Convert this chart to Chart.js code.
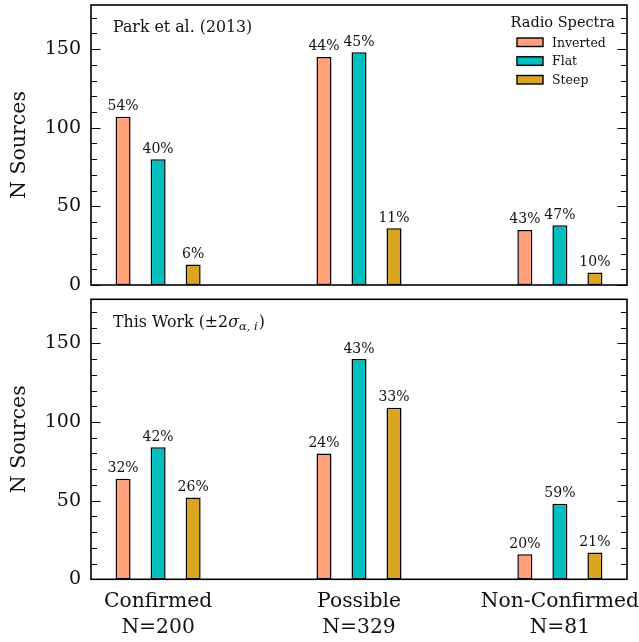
<!DOCTYPE html>
<html><head><meta charset="utf-8">
<script src="https://cdn.jsdelivr.net/npm/chart.js@4/dist/chart.umd.min.js"></script>
<style>
html,body{margin:0;padding:0;background:#fff;width:639px;height:642px;overflow:hidden;}
#w1{position:absolute;left:0;top:0;width:639px;height:300px;}
#w2{position:absolute;left:0;top:290px;width:639px;height:352px;}
</style></head><body>
<div id="w1"><canvas id="c1"></canvas></div>
<div id="w2"><canvas id="c2"></canvas></div>
<script>
const categories = ['Confirmed', 'Possible', 'Non-Confirmed'];
const categoryTotals = ['N=200', 'N=329', 'N=81'];
const seriesNames = ['Inverted', 'Flat', 'Steep'];
const seriesColors = ['#FFA07A', '#00BFBF', '#DAA520'];

const parkInverted = [107, 145, 35];
const parkFlat = [80, 148, 38];
const parkSteep = [13, 36, 8];
const parkInvertedPct = ['54%', '44%', '43%'];
const parkFlatPct = ['40%', '45%', '47%'];
const parkSteepPct = ['6%', '11%', '10%'];

const workInverted = [64, 80, 16];
const workFlat = [84, 140, 48];
const workSteep = [52, 109, 17];
const workInvertedPct = ['32%', '24%', '20%'];
const workFlatPct = ['42%', '43%', '59%'];
const workSteepPct = ['26%', '33%', '21%'];

const yTickValues = [0, 50, 100, 150];
const yMinorStep = 10;
const yMax = 178;

const FAM = "'DejaVu Serif', serif";
const INK = '#111';

const framePlugin = {
  id: 'frame',
  afterDatasetsDraw(chart) {
    const {ctx, chartArea: a} = chart;
    const y = chart.scales.y;
    ctx.save();
    ctx.strokeStyle = '#000';
    ctx.lineWidth = 1.2;
    for (let v = 0; v <= y.max; v += yMinorStep) {
      const py = Math.round(y.getPixelForValue(v)) + 0.5;
      const len = (v % 50 === 0) ? 9.5 : 6;
      ctx.beginPath();
      ctx.moveTo(a.left, py); ctx.lineTo(a.left + len, py);
      ctx.moveTo(a.right, py); ctx.lineTo(a.right - len, py);
      ctx.stroke();
    }
    ctx.lineWidth = 1.6;
    ctx.strokeRect(a.left, a.top, a.right - a.left, a.bottom - a.top);
    ctx.fillStyle = INK;
    ctx.font = `14px ${FAM}`;
    ctx.textAlign = 'center';
    ctx.textBaseline = 'alphabetic';
    chart.data.datasets.forEach((ds, i) => {
      const meta = chart.getDatasetMeta(i);
      meta.data.forEach((bar, j) => {
        ctx.fillText(ds.pct[j], bar.x, bar.y - 6.5);
      });
    });
    ctx.restore();
  }
};

const legendPlugin = {
  id: 'customLegend',
  afterDraw(chart) {
    if (!chart.options.plugins.customLegend.show) return;
    const {ctx} = chart;
    ctx.save();
    ctx.fillStyle = INK;
    ctx.font = `14.5px ${FAM}`;
    ctx.textAlign = 'right';
    ctx.textBaseline = 'alphabetic';
    ctx.fillText('Radio Spectra', 615, 27);
    ctx.textAlign = 'left';
    ctx.font = `12.5px ${FAM}`;
    const bases = [46.5, 65.3, 84];
    chart.data.datasets.forEach((ds, i) => {
      const b = bases[i];
      ctx.fillStyle = ds.backgroundColor;
      ctx.fillRect(517, b - 8.5, 26, 8.5);
      ctx.strokeStyle = '#000';
      ctx.lineWidth = 1.4;
      ctx.strokeRect(517, b - 8.5, 26, 8.5);
      ctx.fillStyle = INK;
      ctx.fillText(ds.label, 552, b);
    });
    ctx.restore();
  }
};

const panelLabelPlugin = {
  id: 'panelLabel',
  afterDraw(chart) {
    const kind = chart.options.plugins.panelLabel.kind;
    const {ctx} = chart;
    ctx.save();
    ctx.fillStyle = INK;
    ctx.textAlign = 'left';
    ctx.textBaseline = 'alphabetic';
    if (kind === 'park') {
      ctx.font = `15.8px ${FAM}`;
      ctx.fillText('Park et al. (2013)', 113, 31.5);
    } else {
      let x = 113, b = 36.7;
      ctx.font = `15.8px ${FAM}`;
      const t1 = 'This Work (\u00B12';
      ctx.fillText(t1, x, b); x += ctx.measureText(t1).width;
      ctx.font = `italic 15.8px ${FAM}`;
      ctx.fillText('\u03C3', x, b); x += ctx.measureText('\u03C3').width;
      ctx.font = `italic 11.5px ${FAM}`;
      const sub = '\u03B1, i';
      ctx.fillText(sub, x, b + 3); x += ctx.measureText(sub).width + 1;
      ctx.font = `15.8px ${FAM}`;
      ctx.fillText(')', x, b);
    }
    ctx.restore();
  }
};

function makeDatasets(vals, pcts) {
  return vals.map((arr, i) => ({
    label: seriesNames[i],
    data: arr.map((v, k) => ({x: k, y: v})),
    pct: pcts[i],
    backgroundColor: seriesColors[i],
    borderColor: '#000',
    borderWidth: 1.5,
    borderSkipped: false,
    categoryPercentage: 0.523,
    barPercentage: 0.4286
  }));
}

function makeChart(id, vals, pcts, showX, kind, padding) {
  return new Chart(document.getElementById(id), {
    type: 'bar',
    data: {datasets: makeDatasets(vals, pcts)},
    options: {
      responsive: true,
      maintainAspectRatio: false,
      animation: false,
      layout: {padding},
      plugins: {
        legend: {display: false},
        tooltip: {enabled: false},
        customLegend: {show: kind === 'park'},
        panelLabel: {kind}
      },
      scales: {
        x: {
          type: 'linear',
          offset: false,
          min: -0.334, max: 2.334,
          display: showX,
          grid: {display: false, drawTicks: false, offset: false},
          border: {display: false},
          afterBuildTicks: s => { s.ticks = categories.map((c, i) => ({value: i})); },
          ticks: {
            callback: v => [categories[v], categoryTotals[v]],
            font: {family: FAM, size: 20.3, lineHeight: 1.3},
            color: INK, padding: 9, maxRotation: 0, autoSkip: false
          },
          afterFit: s => { if (showX) s.height = 62.7; s.paddingLeft = 0; s.paddingRight = 0; }
        },
        y: {
          min: 0, max: yMax,
          grid: {display: false, drawTicks: false},
          border: {display: false},
          afterBuildTicks: s => { s.ticks = yTickValues.map(v => ({value: v})); },
          ticks: {font: {family: FAM, size: 19}, color: INK, padding: 10},
          title: {display: true, text: 'N Sources', font: {family: FAM, size: 20.5}, color: INK, padding: {top: 7.5, bottom: 0}},
          afterFit: s => { s.width = 91; s.paddingTop = 0; s.paddingBottom = 0; }
        }
      }
    },
    plugins: [framePlugin, legendPlugin, panelLabelPlugin]
  });
}

makeChart('c1', [parkInverted, parkFlat, parkSteep], [parkInvertedPct, parkFlatPct, parkSteepPct], false, 'park',
  {top: 5, right: 12, bottom: 15, left: 0});
makeChart('c2', [workInverted, workFlat, workSteep], [workInvertedPct, workFlatPct, workSteepPct], true, 'work',
  {top: 9.3, right: 12, bottom: 0, left: 0});
</script>
</body></html>
